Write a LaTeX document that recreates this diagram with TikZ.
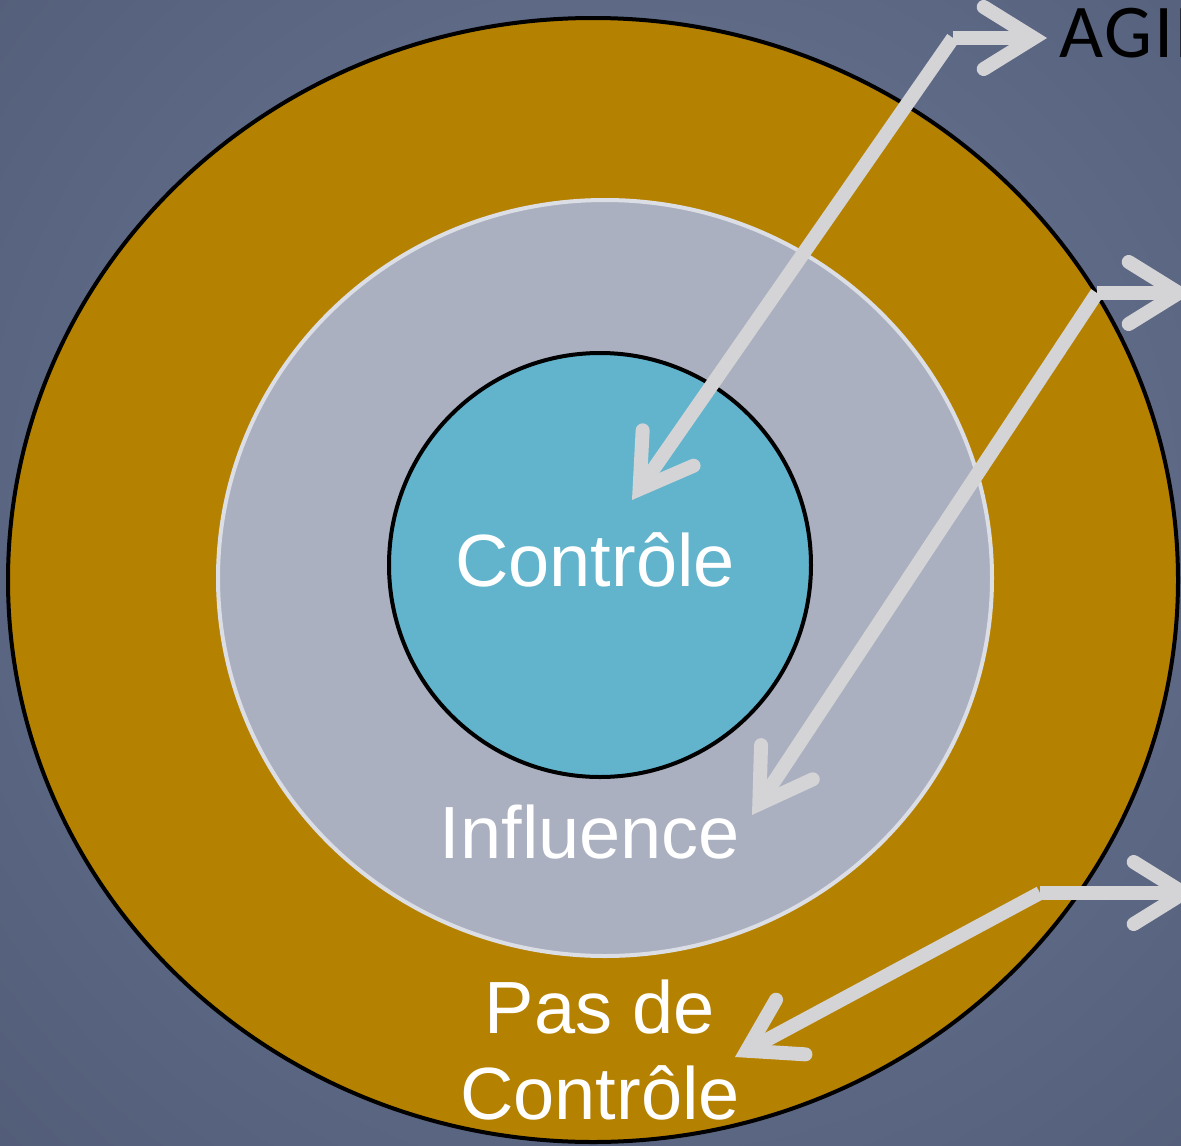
\documentclass[tikz,border=0pt]{standalone}
\usepackage{fontspec}
\setmainfont{Liberation Sans}
\newfontfamily\agirfont[LetterSpace=2.5]{Carlito}
\usetikzlibrary{arrows.meta,shapes.geometric}
\definecolor{bgin}{HTML}{6E7A98}
\definecolor{bgout}{HTML}{414B65}
\definecolor{gold}{HTML}{B58100}
\definecolor{midgray}{HTML}{AAB0C0}
\definecolor{midborder}{HTML}{DCDEE6}
\definecolor{innerblue}{HTML}{62B4CC}
\definecolor{arrowgray}{HTML}{D4D4D6}
\tikzset{
  ring/.style={ellipse, draw, line width=4pt, inner sep=0pt, outer sep=0pt},
  lbl/.style={text=white, font=\fontsize{74}{86}\selectfont, anchor=base, inner sep=0pt},
  bigarrow/.style={draw=arrowgray, line width=14pt,
    -{Straight Barb[length=50pt, width=62pt, line cap=round]}},
}
\begin{document}
\begin{tikzpicture}[x=1pt, y=-1pt]
\useasboundingbox (0,0) rectangle (1181,1146);
\begin{scope}
\clip (0,0) rectangle (1181,1146);
\shade[inner color=bgin, outer color=bgout] (640,520) circle[radius=1450pt];
\end{scope}
% rings
\node[ring, draw=black, fill=gold, minimum width=1170pt, minimum height=1124pt] (outer) at (593,580) {};
\node[ring, draw=midborder, fill=midgray, minimum width=774pt, minimum height=756pt] (middle) at (605,578) {};
\node[ring, draw=black, fill=innerblue, minimum width=422pt, minimum height=424pt] (inner) at (600,565) {};
% labels
\node[lbl] (lcontrole) at (595,586) {Contrôle};
\node[lbl] (linfluence) at (590,858) {Influence};
\node[lbl] (lpasde) at (600,1033) {Pas de};
\node[lbl] (lpascontrole) at (600,1119) {Contrôle};
\node[anchor=base west, inner sep=0pt, font=\agirfont\fontsize{76}{86}\selectfont, text=black] (agir) at (1059,57) {AGIR};
% arrow anchor points
\coordinate (e1) at (953,38);
\coordinate (t1a) at (632,500);
\coordinate (t1b) at (1047,38);
\coordinate (e2) at (1097,293);
\coordinate (t2a) at (752,815);
\coordinate (t2b) at (1192,293);
\coordinate (e3) at (1040,893);
\coordinate (t3a) at (735,1057);
\coordinate (t3b) at (1197,893);
% arrows
\draw[bigarrow] (e1) -- (t1a);
\draw[bigarrow] (e1) -- (t1b);
\draw[bigarrow] (e2) -- (t2a);
\draw[bigarrow] (e2) -- (t2b);
\draw[bigarrow] (e3) -- (t3a);
\draw[bigarrow] (e3) -- (t3b);
\end{tikzpicture}
\end{document}
